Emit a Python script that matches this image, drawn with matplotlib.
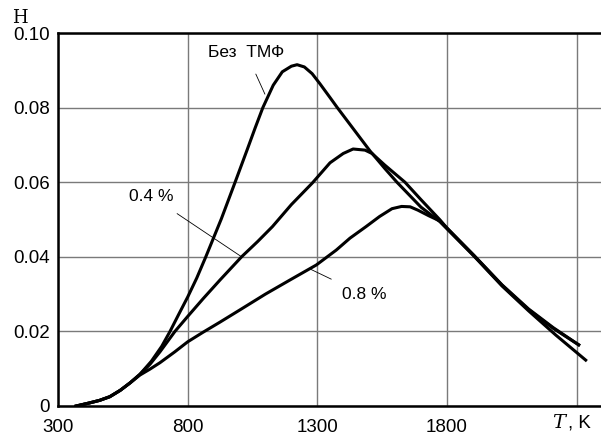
import matplotlib.pyplot as plt

# temperature, K and H values
t_base = [370, 420, 460, 500, 540, 578, 616, 660, 700, 732, 765, 800, 835,
          870, 930, 983, 1030, 1060, 1090, 1130, 1165, 1200, 1222, 1250,
          1280, 1310, 1350, 1376, 1440, 1503, 1560, 1607, 1700, 1773, 1800,
          1904, 2012, 2115, 2220, 2335]
h_base = [0, 0.0008, 0.0015, 0.0025, 0.0042, 0.0062, 0.0085, 0.0120, 0.0160,
          0.0200, 0.0245, 0.0292, 0.0343, 0.0400, 0.0502, 0.0600, 0.0688,
          0.0745, 0.0800, 0.0860, 0.0896, 0.0911, 0.0915, 0.0909, 0.0891,
          0.0864, 0.0826, 0.0801, 0.0742, 0.0684, 0.0637, 0.0600, 0.0533,
          0.0494, 0.0475, 0.0402, 0.0322, 0.0255, 0.0190, 0.0123]

t_04 = [370, 420, 460, 500, 540, 578, 616, 655, 693, 751, 800, 860, 925,
        1008, 1070, 1127, 1200, 1281, 1349, 1400, 1438, 1484, 1511, 1560,
        1638, 1700, 1773, 1800, 1904, 2012, 2115, 2210, 2308]
h_04 = [0, 0.0008, 0.0015, 0.0025, 0.0042, 0.0062, 0.0085, 0.0112, 0.0145,
        0.0200, 0.0240, 0.0288, 0.0338, 0.0400, 0.0441, 0.0481, 0.0540,
        0.0598, 0.0652, 0.0677, 0.0689, 0.0686, 0.0677, 0.0646, 0.0600,
        0.0553, 0.0499, 0.0477, 0.0404, 0.0325, 0.0260, 0.0210, 0.0164]

t_08 = [370, 420, 460, 500, 540, 578, 616, 655, 693, 750, 800, 860, 925,
        1000, 1100, 1200, 1296, 1373, 1426, 1488, 1540, 1588, 1625, 1658,
        1688, 1730, 1773, 1800, 1904, 2012, 2115, 2210, 2308]
h_08 = [0, 0.0008, 0.0015, 0.0025, 0.0042, 0.0062, 0.0083, 0.0099, 0.0116,
        0.0145, 0.0172, 0.0198, 0.0225, 0.0257, 0.0300, 0.0340, 0.0378,
        0.0418, 0.0450, 0.0481, 0.0508, 0.0529, 0.0535, 0.0534, 0.0525,
        0.0510, 0.0496, 0.0477, 0.0403, 0.0324, 0.0258, 0.0208, 0.0164]

x_ticks = [300, 800, 1300, 1800, 2300]
x_labels = ['300', '800', '1300', '1800', '']
y_ticks = [0, 0.02, 0.04, 0.06, 0.08, 0.10]
y_labels = ['0', '0.02', '0.04', '0.06', '0.08', '0.10']

plt.rcParams['font.family'] = 'Liberation Sans'

fig = plt.figure(figsize=(6.01, 4.38), dpi=100)
ax = fig.add_axes([58 / 601, 1 - 406 / 438, 1 - 58 / 601, (406 - 33) / 438])

for t, h in [(t_base, h_base), (t_04, h_04), (t_08, h_08)]:
    ax.plot(t, h, color='black', lw=2.2, solid_joinstyle='round', zorder=3)

ax.set_xlim(300, 2394)
ax.set_ylim(0, 0.10)
ax.set_xticks(x_ticks)
ax.set_xticklabels(x_labels)
ax.set_yticks(y_ticks)
ax.set_yticklabels(y_labels)
ax.tick_params(length=0, labelsize=13.5, pad=6)
ax.tick_params(axis='x', pad=9)
ax.grid(True, color='#7a7a7a', lw=1.0)
ax.set_axisbelow(True)

for side in ['left', 'top', 'bottom']:
    ax.spines[side].set_linewidth(1.8)
ax.spines['right'].set_visible(False)

# curve labels with leader lines
ax.annotate('Без  ТМФ', xy=(1098, 0.0836), xytext=(1025, 0.0948),
            fontsize=12.5, ha='center', va='center',
            arrowprops=dict(arrowstyle='-', lw=0.6, color='black',
                            shrinkA=9, shrinkB=0))
ax.annotate('0.4 %', xy=(1008, 0.040), xytext=(660, 0.0562),
            fontsize=12.5, ha='center', va='center',
            arrowprops=dict(arrowstyle='-', lw=0.6, color='black',
                            shrinkA=9, shrinkB=0))
ax.annotate('0.8 %', xy=(1270, 0.0368), xytext=(1480, 0.0298),
            fontsize=12.5, ha='center', va='center',
            arrowprops=dict(arrowstyle='-', lw=0.6, color='black',
                            shrinkA=9, shrinkB=0))

fig.text(20 / 601, 1 - 18 / 438, 'H', family='DejaVu Serif', fontsize=13,
         ha='center', va='center')
fig.text(568 / 601, 1 - 423 / 438, '$T$', family='DejaVu Serif', fontsize=14,
         ha='right', va='center', math_fontfamily='dejavuserif')
fig.text(568 / 601, 1 - 423 / 438, ', K', fontsize=13.5, ha='left',
         va='center')

fig.savefig('out.png', dpi=100)
